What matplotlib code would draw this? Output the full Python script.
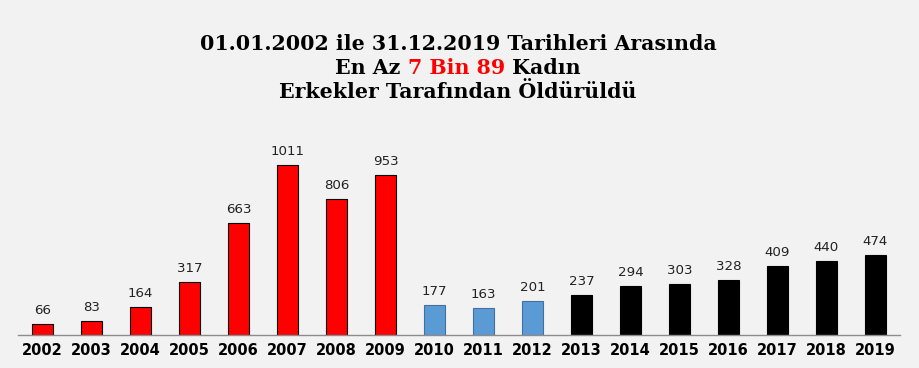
import matplotlib
matplotlib.use("Agg")
import matplotlib.pyplot as plt

years = ["2002", "2003", "2004", "2005", "2006", "2007", "2008", "2009", "2010",
         "2011", "2012", "2013", "2014", "2015", "2016", "2017", "2018", "2019"]
values = [66, 83, 164, 317, 663, 1011, 806, 953, 177, 163, 201, 237, 294, 303, 328, 409, 440, 474]
colors = ["#ff0000"] * 8 + ["#5b9bd5"] * 3 + ["#000000"] * 7
edges = ["#000000"] * 8 + ["#41719c"] * 3 + ["#000000"] * 7

title1 = "01.01.2002 ile 31.12.2019 Tarihleri Arasında"
title2_parts = [("En Az ", "#000000"), ("7 Bin 89", "#ff0000"), (" Kadın", "#000000")]
title3 = "Erkekler Tarafından Öldürüldü"

W, H = 920, 368
fig = plt.figure(figsize=(W / 100, H / 100), dpi=100, facecolor="#f2f2f2")
ax = fig.add_axes([18 / W, 33 / H, 882 / W, 202 / H])
ax.set_facecolor("#f2f2f2")

x = list(range(len(years)))
ax.bar(x, values, width=0.41, color=colors, edgecolor=edges, linewidth=0.8, zorder=2)
for xi, v in zip(x, values):
    ax.annotate(str(v), (xi, v), xytext=(0, 5), textcoords="offset points",
                ha="center", va="bottom", fontsize=9.6, family="DejaVu Sans", color="#222222")

ax.set_xlim(-0.5, 17.5)
ax.set_ylim(0, 1200)
ax.set_xticks(x)
ax.set_xticklabels(years, fontsize=10.5, fontweight="bold", family="DejaVu Sans")
ax.tick_params(axis="x", length=0, pad=6)
ax.set_yticks([])
for s in ["top", "right", "left"]:
    ax.spines[s].set_visible(False)
ax.spines["bottom"].set_color("#8c8c8c")
ax.spines["bottom"].set_linewidth(1.0)

tfont = dict(fontsize=14.8, fontweight="bold", family="DejaVu Serif")
cx = 458 / W
fig.text(cx, 1 - 44 / H, title1, ha="center", va="center", **tfont)
fig.text(cx, 1 - 92 / H, title3, ha="center", va="center", **tfont)

# second line with mixed colours
fig.canvas.draw()
r = fig.canvas.get_renderer()
widths = []
for s, c in title2_parts:
    t = fig.text(0, 0, s, **tfont)
    bb = t.get_window_extent(renderer=r)
    widths.append(bb.width)
    t.remove()
total = sum(widths)
start = cx * W - total / 2
y2 = 1 - 68 / H
for (s, c), w in zip(title2_parts, widths):
    fig.text(start / W, y2, s, ha="left", va="center", color=c, **tfont)
    start += w

fig.savefig("out.png", dpi=100, facecolor=fig.get_facecolor())
